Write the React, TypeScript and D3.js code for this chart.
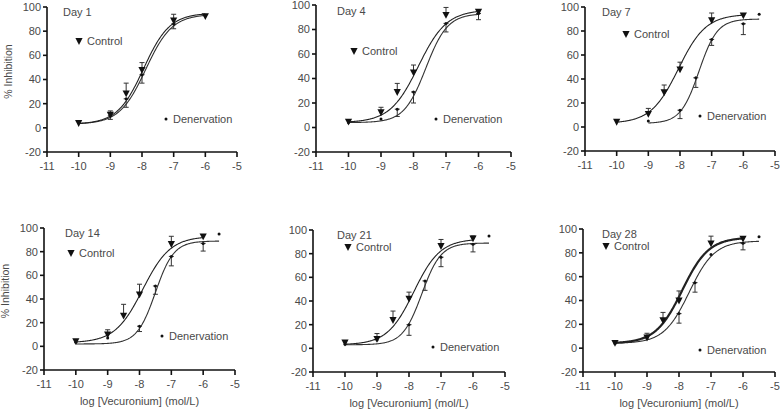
import React from "react";
import * as d3 from "d3";

// ---------- data ----------
const days = ["Day 1", "Day 4", "Day 7", "Day 14", "Day 21", "Day 28"];
const xTicks = [-11, -10, -9, -8, -7, -6, -5];
const yTicks = [-20, 0, 20, 40, 60, 80, 100];

const controlDoses = [-10, -9, -8.5, -8, -7, -6];
const controlMeans = [
  [4, 11, 28.5, 48, 89, 92.5],
  [4.8, 12.5, 29, 45, 92, 94.5],
  [4.4, 11, 29, 48, 89, 93],
  [4.5, 10, 26, 44, 86.5, 93],
  [5, 8, 24, 42, 86.5, 93],
  [4.5, 9, 23.5, 40, 88, 92],
];
const controlErr = [
  [0, 3, 8.5, 6, 5, 0],
  [0, 4, 7, 6, 6, 0],
  [0, 4.5, 6, 6, 6, 0],
  [0, 4, 9.5, 8.5, 6.5, 0],
  [0, 4.5, 7.5, 5.5, 5.5, 2],
  [0, 3.5, 6.5, 8, 6, 0],
];

const denervDoses = [
  [-10, -9, -8.5, -8, -7, -6],
  [-10, -9, -8.5, -8, -7, -6],
  [-9, -8, -7.5, -7, -6, -5.5],
  [-10, -9, -8, -7.5, -7, -6, -5.5],
  [-10, -9, -8, -7.5, -7, -6, -5.5],
  [-10, -9, -8, -7.5, -7, -6, -5.5],
];
const denervMeans = [
  [5, 10, 24, 44, 86, 93],
  [4, 7, 15, 29, 85, 93],
  [5, 14, 41, 73, 86, 94],
  [3.5, 7, 17, 51, 76, 87, 95],
  [3.5, 7, 20, 57, 77, 88, 95],
  [4, 8.5, 29, 55, 78.5, 88, 93.5],
];
const denervErr = [
  [0, 3, 7, 7, 4, 0],
  [0, 0, 6, 9, 7, 5],
  [0, 7, 8, 5, 9, 0],
  [0, 0, 4.5, 7, 8, 6.5, 0],
  [0, 0, 9, 8, 8, 6.5, 0],
  [0, 0, 8, 8, 0, 5.5, 0],
];

// fitted sigmoid parameters: [bottom, top, logEC50, hill]
const controlFit = [
  [3, 95, -7.95, 1.05],
  [4, 96, -7.85, 1.0],
  [3, 94, -8.05, 1.0],
  [3, 93, -7.9, 1.0],
  [3, 92.5, -7.85, 1.05],
  [4, 93, -7.9, 1.05],
];
const denervFit = [
  [3, 94, -7.88, 1.05],
  [4, 93, -7.62, 1.3],
  [3, 90, -7.4, 1.5],
  [2, 89, -7.5, 1.5],
  [3, 89, -7.6, 1.45],
  [4, 90, -7.68, 1.1],
];
const controlRange = [
  [-10, -6], [-10, -6], [-10, -6], [-10, -6], [-10, -6], [-10, -6],
];
const denervRange = [
  [-10, -6], [-10, -6], [-9, -5.5], [-10, -5.5], [-10, -5.5], [-10, -5.5],
];

// ---------- layout ----------
const panels = [
  { x0: 47, x1: 237, yTop: 7, yBot: 152 },
  { x0: 316, x1: 511, yTop: 5, yBot: 152 },
  { x0: 585, x1: 775, yTop: 7, yBot: 151 },
  { x0: 44, x1: 235, yTop: 228, yBot: 370 },
  { x0: 313, x1: 505, yTop: 230, yBot: 372 },
  { x0: 583, x1: 775, yTop: 229, yBot: 372 },
];
// legend marker positions relative to panel (x offset from axis, y offset from top)
const legendCtl = [
  [32, 34], [38, 46], [41, 27], [27, 25], [35, 17], [23, 17],
];
const legendDen = [
  [119, 112], [120, 114], [115, 109], [118, 108], [120, 117], [117, 121],
];
const dayLabelPos = [
  [16, 5], [21, 6], [17, 5], [21, 5], [24, 5], [19, 5],
];

const FONT = "'Liberation Sans', Arial, sans-serif";
const TXT = "#4a4a4a";

function sigmoid(p: number[], x: number) {
  const [b, t, ec, h] = p;
  return b + (t - b) / (1 + Math.pow(10, h * (ec - x)));
}

function Tri({ x, y }: { x: number; y: number }) {
  const s = 3.6;
  return (
    <path
      d={`M${x - s},${y - s * 0.8}L${x + s},${y - s * 0.8}L${x},${y + s * 1.1}Z`}
      fill="#111"
    />
  );
}

function Panel({ i }: { i: number }) {
  const p = panels[i];
  const x = d3.scaleLinear().domain([-11, -5]).range([p.x0, p.x1]);
  const y = d3.scaleLinear().domain([-20, 100]).range([p.yBot, p.yTop]);
  const curve = (fit: number[], r: number[]) => {
    const xs = d3.range(r[0], r[1] + 0.0001, 0.02);
    return d3
      .line<number>()
      .x((v) => x(v))
      .y((v) => y(sigmoid(fit, v)))(xs) as string;
  };
  const bottomRow = i >= 3;
  const leftCol = i === 0 || i === 3;
  const cap = 2.5;
  return (
    <g>
      {/* fitted curves */}
      <path d={curve(denervFit[i], denervRange[i])} fill="none" stroke="#333" strokeWidth={1.1} />
      <path
        d={curve(controlFit[i], controlRange[i])}
        fill="none"
        stroke="#222"
        strokeWidth={i === 5 ? 2.2 : 1.1}
      />
      {/* denervation error bars and dots */}
      {denervDoses[i].map((d, k) => {
        const m = denervMeans[i][k];
        const e = denervErr[i][k];
        const cx = x(d);
        return (
          <g key={"d" + k}>
            {e > 0 && (
              <g stroke="#333" strokeWidth={1}>
                <line x1={cx} x2={cx} y1={y(m)} y2={y(m - e)} />
                <line x1={cx - cap} x2={cx + cap} y1={y(m - e)} y2={y(m - e)} />
                <line x1={cx - cap} x2={cx + cap} y1={y(m)} y2={y(m)} />
              </g>
            )}
            <circle cx={cx} cy={y(m)} r={1.5} fill="#111" />
          </g>
        );
      })}
      {/* control error bars and triangles */}
      {controlDoses.map((d, k) => {
        const m = controlMeans[i][k];
        const e = controlErr[i][k];
        const cx = x(d);
        return (
          <g key={"c" + k}>
            {e > 0 && (
              <g stroke="#333" strokeWidth={1}>
                <line x1={cx} x2={cx} y1={y(m)} y2={y(m + e)} />
                <line x1={cx - cap} x2={cx + cap} y1={y(m + e)} y2={y(m + e)} />
              </g>
            )}
            <Tri x={cx} y={y(m)} />
          </g>
        );
      })}
      {/* axes */}
      <g stroke="#111" strokeWidth={1.6} fill="none">
        <line x1={p.x0} x2={p.x0} y1={y(100)} y2={y(-20)} />
        <line x1={p.x0} x2={p.x1} y1={y(-20)} y2={y(-20)} />
        {yTicks.map((t) => (
          <line key={"yt" + t} x1={p.x0 - 4} x2={p.x0} y1={y(t)} y2={y(t)} />
        ))}
        {xTicks.map((t) => (
          <line key={"xt" + t} x1={x(t)} x2={x(t)} y1={y(-20)} y2={y(-20) + 5} />
        ))}
      </g>
      <g fontFamily={FONT} fontSize={11} fill={TXT}>
        {yTicks.map((t) => (
          <text key={"yl" + t} x={p.x0 - 6} y={y(t)} dy="0.35em" textAnchor="end">
            {t}
          </text>
        ))}
        {xTicks.map((t) => (
          <text key={"xl" + t} x={x(t)} y={y(-20) + 18} textAnchor="middle">
            {t}
          </text>
        ))}
        <text x={p.x0 + dayLabelPos[i][0]} y={p.yTop + dayLabelPos[i][1]} dy="0.35em">
          {days[i]}
        </text>
        <Tri x={p.x0 + legendCtl[i][0]} y={p.yTop + legendCtl[i][1]} />
        <text x={p.x0 + legendCtl[i][0] + 8} y={p.yTop + legendCtl[i][1]} dy="0.35em">
          Control
        </text>
        <circle cx={p.x0 + legendDen[i][0]} cy={p.yTop + legendDen[i][1]} r={1.5} fill="#111" />
        <text x={p.x0 + legendDen[i][0] + 7} y={p.yTop + legendDen[i][1]} dy="0.35em">
          Denervation
        </text>
        {leftCol && (
          <text
            transform={`translate(${p.x0 - 35},${(y(100) + y(-20)) / 2 - 8}) rotate(-90)`}
            textAnchor="middle"
            fontSize={10.5}
          >
            % Inhibition
          </text>
        )}
        {bottomRow && (
          <text x={(p.x0 + p.x1) / 2} y={y(-20) + 35} textAnchor="middle">
            log [Vecuronium] (mol/L)
          </text>
        )}
      </g>
    </g>
  );
}

export default function App() {
  return (
    <svg
      width={781}
      height={410}
      style={{ position: "absolute", left: 0, top: 0, background: "#fff" }}
    >
      {days.map((_, i) => (
        <Panel key={i} i={i} />
      ))}
    </svg>
  );
}
